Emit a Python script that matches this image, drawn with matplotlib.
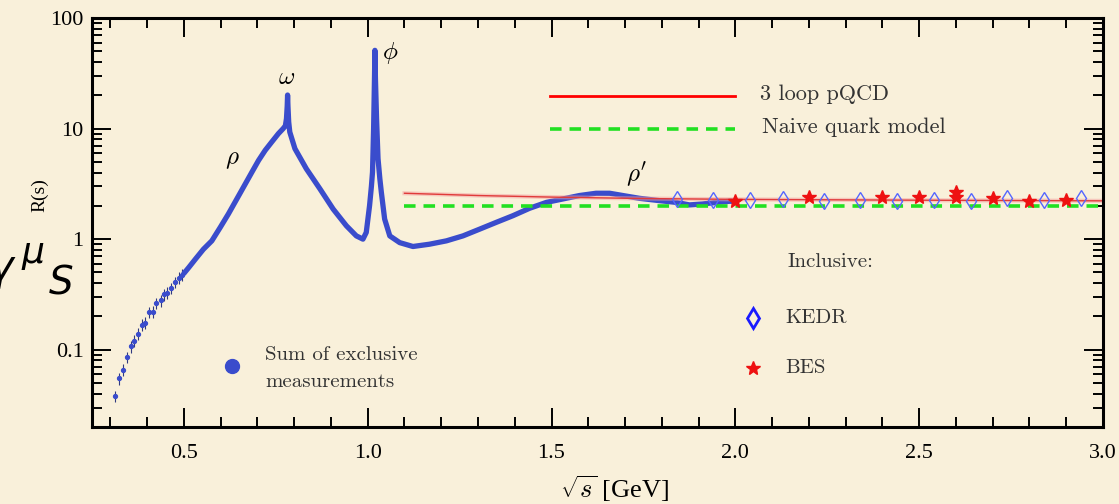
import matplotlib
matplotlib.use("Agg")
import matplotlib.pyplot as plt
import matplotlib.ticker as mticker

# ---------------- data ----------------
# Sum of exclusive measurements: sparse low-energy points
excl_x_sparse = [0.313, 0.324, 0.335, 0.344, 0.355, 0.365, 0.375, 0.386, 0.395, 0.406,
                 0.417, 0.425, 0.437, 0.446, 0.455, 0.465, 0.475, 0.486, 0.495]
excl_R_sparse = [0.038, 0.055, 0.066, 0.086, 0.107, 0.121, 0.139, 0.169, 0.175, 0.218,
                 0.221, 0.264, 0.279, 0.316, 0.328, 0.359, 0.409, 0.449, 0.478]

# Sum of exclusive measurements: dense part
excl_x_dense = [0.500, 0.513, 0.531, 0.553, 0.576, 0.599, 0.621, 0.644, 0.667, 0.685,
                0.703, 0.721, 0.739, 0.757, 0.770, 0.776, 0.779, 0.781, 0.782, 0.783,
                0.785, 0.788, 0.802, 0.833, 0.870, 0.906, 0.942, 0.969, 0.987, 0.996,
                1.005, 1.010, 1.013, 1.016, 1.0185, 1.0195, 1.021, 1.024, 1.028, 1.033,
                1.037, 1.046, 1.060, 1.087, 1.123, 1.168, 1.214, 1.259, 1.304, 1.350,
                1.395, 1.440, 1.486, 1.531, 1.576, 1.621, 1.658, 1.694, 1.739, 1.793,
                1.839, 1.875, 1.911, 1.948, 1.984, 2.000]
excl_R_dense = [0.49, 0.553, 0.658, 0.81, 0.966, 1.28, 1.69, 2.31, 3.16, 4.04,
                5.15, 6.35, 7.57, 9.0, 10.0, 10.6, 12.3, 16.0, 20.1, 16.0,
                11.5, 9.3, 6.58, 4.33, 2.85, 1.87, 1.32, 1.07, 1.0, 1.15,
                2.01, 3.0, 4.04, 10.0, 30.0, 51.0, 28.0, 12.3, 5.34, 3.51,
                2.66, 1.52, 1.07, 0.93, 0.858, 0.90, 0.965, 1.07, 1.23, 1.42,
                1.63, 1.90, 2.15, 2.31, 2.48, 2.60, 2.60, 2.48, 2.34, 2.23,
                2.15, 2.04, 2.08, 2.15, 2.20, 2.20]

# 3 loop pQCD
pqcd_x = [1.1, 1.3, 1.5, 1.75, 2.0, 2.5, 3.0]
pqcd_R = [2.60, 2.48, 2.40, 2.33, 2.29, 2.25, 2.22]

# Naive quark model
naive_x = [1.1, 3.0]
naive_R = [2.0, 2.0]

# KEDR inclusive
kedr_x = [1.84, 1.94, 2.04, 2.13, 2.24, 2.34, 2.44, 2.54, 2.64, 2.74, 2.84, 2.94]
kedr_R = [2.31, 2.28, 2.28, 2.31, 2.20, 2.28, 2.23, 2.28, 2.23, 2.34, 2.28, 2.34]

# BES inclusive
bes_x = [2.0, 2.2, 2.4, 2.5, 2.6, 2.6, 2.7, 2.8, 2.9]
bes_R = [2.23, 2.42, 2.42, 2.42, 2.66, 2.42, 2.34, 2.20, 2.26]

x_ticks = [0.5, 1.0, 1.5, 2.0, 2.5, 3.0]
x_ticklabels = ["0.5", "1.0", "1.5", "2.0", "2.5", "3.0"]
y_ticks = [0.1, 1, 10, 100]
y_ticklabels = ["0.1", "1", "10", "100"]

# ---------------- style ----------------
BG = "#f9f0da"
BLUE = "#3a4ccc"
plt.rcParams["font.family"] = ["Liberation Serif", "DejaVu Serif"]
plt.rcParams["mathtext.fontset"] = "cm"

W, H = 1119, 504
fig = plt.figure(figsize=(W / 100, H / 100), dpi=100, facecolor=BG)
L, R_, T, B = 92, 1103, 18, 427
ax = fig.add_axes([L / W, 1 - B / H, (R_ - L) / W, (B - T) / H])
ax.set_facecolor("none")
ax.set_yscale("log")
ax.set_xlim(0.25, 3.0)
ax.set_ylim(0.02, 100)

for s in ax.spines.values():
    s.set_linewidth(2.2)

ax.set_xticks(x_ticks)
ax.set_xticklabels(x_ticklabels)
ax.xaxis.set_minor_locator(mticker.MultipleLocator(0.1))
ax.set_yticks(y_ticks)
ax.set_yticklabels(y_ticklabels)
ax.yaxis.set_minor_locator(mticker.LogLocator(base=10, subs=range(2, 10), numticks=20))
ax.yaxis.set_minor_formatter(mticker.NullFormatter())
ax.tick_params(which="both", direction="in", top=True, right=True, width=1.4, labelsize=16)
ax.tick_params(which="major", length=13.5)
ax.tick_params(which="minor", length=7)
ax.tick_params(axis="x", which="major", pad=12)
ax.tick_params(axis="y", which="major", pad=6)

# ---------------- data marks ----------------
ax.errorbar(excl_x_sparse, excl_R_sparse,
            yerr=[[r * 0.12 for r in excl_R_sparse], [r * 0.12 for r in excl_R_sparse]],
            fmt="o", ms=2.8, color=BLUE, ecolor="#303a80", elinewidth=0.8, capsize=0)
ax.plot(excl_x_dense, excl_R_dense, "-", color=BLUE, lw=3.8, solid_capstyle="round",
        solid_joinstyle="round")

ax.plot(pqcd_x, pqcd_R, "-", color="#f4a0a0", lw=3.0, alpha=0.5)
ax.plot(pqcd_x, pqcd_R, "-", color="#e03a3a", lw=1.0)
ax.plot(naive_x, naive_R, "--", color="#22e022", lw=2.6, dashes=(3.2, 2.2))

ax.plot(kedr_x, kedr_R, "d", ms=8.5, mfc="none", mec="#5566ff", mew=1.0)
ax.plot(bes_x, bes_R, "*", ms=10, color="#ee1111", mec="#ee1111")

# ---------------- annotations ----------------
def axp(px, py):
    return ((px - L) / (R_ - L), (B - py) / (B - T))

ax.text(*axp(232, 160), r"$\rho$", transform=ax.transAxes, ha="center", va="center", fontsize=18)
ax.text(*axp(287, 78), r"$\omega$", transform=ax.transAxes, ha="center", va="center", fontsize=18)
ax.text(*axp(390, 53), r"$\phi$", transform=ax.transAxes, ha="center", va="center", fontsize=18)
ax.text(*axp(637, 175), r"$\rho'$", transform=ax.transAxes, ha="center", va="center", fontsize=18)

# legend-like elements
x0, y0 = axp(550, 96)
x1, _ = axp(735, 96)
ax.plot([x0, x1], [y0, y0], color="#ff0000", lw=2.0, transform=ax.transAxes)
ax.text(*axp(760, 94), "3 loop pQCD", transform=ax.transAxes, ha="left", va="center",
        fontsize=16, family="cmr10", color="#333333")
x0, y0 = axp(550, 129)
ax.plot([x0, x1], [y0, y0], "--", color="#22e022", lw=2.6, dashes=(3.2, 2.2),
        transform=ax.transAxes)
ax.text(*axp(762, 127), "Naive quark model", transform=ax.transAxes, ha="left", va="center",
        fontsize=16, family="cmr10", color="#333333")

ax.text(*axp(788, 262), "Inclusive:", transform=ax.transAxes, ha="left", va="center",
        fontsize=15, family="cmr10", color="#333333")
ax.plot(*axp(753, 318), "d", ms=10, mfc="none", mec="#1a1aff", mew=2.0, transform=ax.transAxes)
ax.text(*axp(785, 318), "KEDR", transform=ax.transAxes, ha="left", va="center",
        fontsize=15, family="cmr10", color="#333333")
ax.plot(*axp(753, 368), "*", ms=10, color="#ee1111", transform=ax.transAxes)
ax.text(*axp(785, 368), "BES", transform=ax.transAxes, ha="left", va="center",
        fontsize=15, family="cmr10", color="#333333")

ax.plot(*axp(232, 366), "o", ms=10, color=BLUE, transform=ax.transAxes)
ax.text(*axp(265, 355), "Sum of exclusive", transform=ax.transAxes, ha="left", va="center",
        fontsize=15, family="cmr10", color="#333333")
ax.text(*axp(265, 382), "measurements", transform=ax.transAxes, ha="left", va="center",
        fontsize=15, family="cmr10", color="#333333")

# axis labels
fig.text(615 / W, 1 - 489 / H, r"$\sqrt{s}$ [GeV]", ha="center", va="center", fontsize=19)
fig.text(40 / W, 1 - 195 / H, "R(s)", ha="center", va="center", fontsize=14, rotation=90)

# large overlay text at the left edge (cut off at the figure edge, as in the original)
fig.text(16 / W, 1 - 272 / H, r"$\gamma$", ha="right", va="center", fontsize=30,
         math_fontfamily="dejavusans")
fig.text(33 / W, 1 - 256 / H, r"$\mu$", ha="center", va="center", fontsize=26,
         math_fontfamily="dejavusans")
fig.text(61 / W, 1 - 284 / H, r"$S$", ha="center", va="center", fontsize=28,
         math_fontfamily="dejavusans")

fig.savefig("out.png", dpi=100, facecolor=BG)
